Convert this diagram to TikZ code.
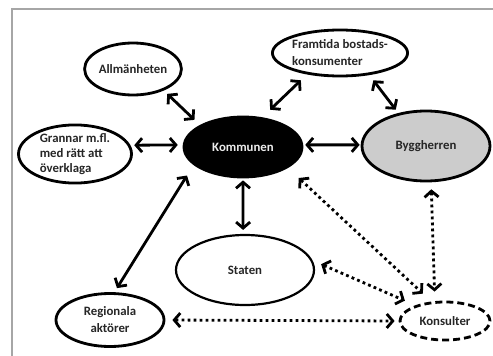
\documentclass[tikz,border=0pt]{standalone}
\usepackage{fontspec}
\setmainfont{Carlito}
\usetikzlibrary{shapes.geometric,arrows.meta}

\begin{document}
\begin{tikzpicture}[x=1pt,y=-1pt,
  actor/.style={ellipse,draw,line width=2.8pt,inner sep=0pt,text=black!85,
    font=\fontsize{12.8}{15}\selectfont\bfseries},
  link/.style={line width=2.8pt,
    {Straight Barb[length=6pt,width=14pt]}-{Straight Barb[length=6pt,width=14pt]}},
  dotlink/.style={link,dash pattern=on 2.8pt off 3.2pt}]
\useasboundingbox (0,0) rectangle (493,356);
\draw[black!35,line width=2pt] (12,356) -- (12,9) -- (493,9);

\node (allm) [actor,minimum width=90pt,minimum height=52pt] at (133,69) {Allmänheten};
\node (grann) [actor,minimum width=113pt,minimum height=52pt,align=left] at (75,154)
  {Grannar m.fl.\\med rätt att\\överklaga};
\node (komm) [actor,fill=black,text=white!92!black,minimum width=118pt,minimum height=60pt] at (243,147) {Kommunen};
\node (fram) [actor,minimum width=135pt,minimum height=46pt,align=left,
  font=\fontsize{12.8}{17}\selectfont\bfseries] at (340,53) {Framtida bostads-\\konsumenter};
\node (bygg) [actor,fill=black!20,minimum width=128pt,minimum height=70pt] at (426,146) {Byggherren};
\node (stat) [actor,line width=2.2pt,minimum width=138pt,minimum height=70pt] at (245,270) {Staten};
\node (reg) [actor,minimum width=108pt,minimum height=53pt,align=center,
  font=\fontsize{12.8}{17}\selectfont\bfseries] at (110,320) {Regionala\\aktörer};
\node (kons) [actor,dash pattern=on 7pt off 4pt,minimum width=90pt,minimum height=38pt] at (445,321) {Konsulter};

\draw[link,shorten <=4.8pt,shorten >=7.5pt] (allm.-35) -- (komm.153);
\draw[link,shorten <=3.8pt,shorten >=5pt] (grann.9) -- (komm.178);
\draw[link,shorten <=10.9pt,shorten >=8.5pt] (komm.57) -- (fram.213);
\draw[link,shorten <=6.6pt,shorten >=4.2pt] (fram.-37) -- (bygg.130);
\draw[link,shorten <=2pt,shorten >=1pt] (komm.2) -- (bygg.179);
\draw[link,shorten <=2pt,shorten >=4pt] (komm.-90) -- (stat.93);
\draw[link,shorten <=12.4pt,shorten >=4.8pt] (komm.200) -- (reg.81);
\draw[dotlink,shorten <=7pt,shorten >=4pt] (reg.0) -- (kons.180);
\draw[dotlink,shorten <=9.3pt,shorten >=11.5pt] (stat.8) -- (kons.152);
\draw[dotlink,shorten <=14.7pt,shorten >=11.6pt] (komm.-25) -- (kons.125);
\draw[dotlink,shorten <=7pt,shorten >=9.5pt] (bygg.-82) -- (kons.117);
\end{tikzpicture}
\end{document}
